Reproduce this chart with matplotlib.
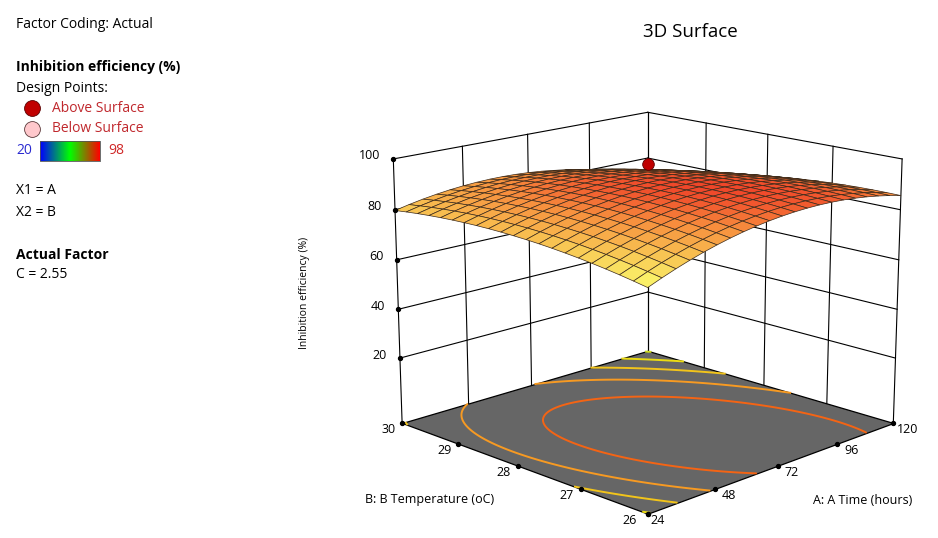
import matplotlib.pyplot as plt
import numpy as np
from matplotlib.colors import LinearSegmentedColormap, Normalize
from mpl_toolkits.mplot3d import proj3d
from mpl_toolkits.mplot3d.art3d import Poly3DCollection

plt.rcParams['font.family'] = ['Open Sans', 'DejaVu Sans']

# factor ranges / ticks
time_ticks = [24, 48, 72, 96, 120]        # A: Time (hours)
temp_ticks = [26, 27, 28, 29, 30]         # B: Temperature (oC)
ie_ticks = [20, 40, 60, 80, 100]          # Inhibition efficiency (%)
z_floor = -7

# quadratic model in coded units, C held at 2.55
b0, bA, bB, bAB, bAA, bBB = 90.7, 0.45, -2.5, -4.55, -8.5, -4.1

# design point above the surface (A, B, response)
design_pt = (72, 28, 98.0)

contour_levels = [72, 76, 80, 84, 88]
contour_colors = ['#cedc1e', '#ecdc12', '#f2c41a', '#f79a22', '#f46414']

surf_cmap = LinearSegmentedColormap.from_list(
    'ie', ['#faf46a', '#f8c452', '#f7903e', '#ee3a26'])
legend_cmap = LinearSegmentedColormap.from_list('leg', ['#0000ff', '#00ff00', '#ff0000'])


def model(A, B):
    a = (A - 72) / 48.0
    b = (B - 28) / 2.0
    return b0 + bA * a + bB * b + bAB * a * b + bAA * a * a + bBB * b * b


fig = plt.figure(figsize=(9.38, 5.38), dpi=100)
ax = fig.add_axes([0.302, -0.11, 0.76, 1.1], projection='3d', computed_zorder=False)
ax.set_axis_off()
ax.view_init(elev=15.5, azim=-135)
ax.set_proj_type('persp', focal_length=0.65)
ax.set_box_aspect((1, 1, 0.775), zoom=0.935)
ax.set_xlim(24, 120)
ax.set_ylim(26, 30)
ax.set_zlim(z_floor, 100)

# back walls grid
for t in time_ticks:
    ax.plot([t, t], [30, 30], [z_floor, 100], color='k', lw=0.8, zorder=1)
for t in temp_ticks:
    ax.plot([120, 120], [t, t], [z_floor, 100], color='k', lw=0.8, zorder=1)
for z in ie_ticks:
    ax.plot([24, 120], [30, 30], [z, z], color='k', lw=0.8, zorder=1)
    ax.plot([120, 120], [26, 30], [z, z], color='k', lw=0.8, zorder=1)

# floor
floor = Poly3DCollection([[(24, 26, z_floor), (120, 26, z_floor),
                           (120, 30, z_floor), (24, 30, z_floor)]],
                         facecolor='#666666', edgecolor='k', linewidth=0.9)
floor.set_zorder(2)
ax.add_collection3d(floor)

# response grid
A = np.linspace(24, 120, 21)
B = np.linspace(26, 30, 21)
AA, BB = np.meshgrid(A, B)
Z = model(AA, BB)

# floor contours
Af = np.linspace(24, 120, 161)
Bf = np.linspace(26, 30, 161)
AAf, BBf = np.meshgrid(Af, Bf)
cs = ax.contour(AAf, BBf, model(AAf, BBf), levels=contour_levels, colors=contour_colors,
                zdir='z', offset=z_floor, linewidths=1.4)
cs.set_zorder(3)

# surface
norm = Normalize(75, 92)
surf = ax.plot_surface(AA, BB, Z, facecolors=surf_cmap(norm(Z)), edgecolor='#3c2a1a',
                       linewidth=0.5, shade=False, rstride=1, cstride=1)
surf.set_zorder(4)

ax.scatter([design_pt[0]], [design_pt[1]], [design_pt[2]], s=70, color='#c00000',
           edgecolor='#5a0000', linewidth=0.6, depthshade=False, zorder=6)

# axis tick dots
ax.scatter([24] * 5, temp_ticks, [z_floor] * 5, s=8, color='k', depthshade=False, zorder=5)
ax.scatter(time_ticks, [26] * 5, [z_floor] * 5, s=8, color='k', depthshade=False, zorder=5)
ax.scatter([24] * 5, [30] * 5, ie_ticks, s=8, color='k', depthshade=False, zorder=5)

# overlay in pixel coordinates for all 2D text
ov = fig.add_axes([0, 0, 1, 1])
ov.set_axis_off()
ov.patch.set_alpha(0)

fig.canvas.draw()
H = fig.bbox.height


def to_px(x, y, z):
    x2, y2, _ = proj3d.proj_transform(np.atleast_1d(x), np.atleast_1d(y),
                                      np.atleast_1d(z), ax.get_proj())
    px = ax.transData.transform(np.column_stack([x2, y2]))
    return px[:, 0], H - px[:, 1]


tx, ty = to_px([24] * 5, temp_ticks, [z_floor] * 5)
for t, x, y in zip(temp_ticks, tx, ty):
    dx = -18 if t == 26 else -14
    ov.text(x + dx, y + 7, str(t), fontsize=9, ha='center', va='center')
tx, ty = to_px(time_ticks, [26] * 5, [z_floor] * 5)
for t, x, y in zip(time_ticks, tx, ty):
    dx = 10 if t == 24 else 14
    ov.text(x + dx, y + 7, str(t), fontsize=9, ha='center', va='center')
tx, ty = to_px([24] * 5, [30] * 5, ie_ticks)
for t, x, y in zip(ie_ticks, tx, ty):
    ov.text(x - 13, y - 3, str(t), fontsize=9, ha='right', va='center')

ov.text(690, 32, '3D Surface', fontsize=13.5, ha='center', va='center')
ov.text(305, 293, 'Inhibition efficiency (%)', fontsize=7.5, rotation=90, ha='center', va='center')
ov.text(430, 500, 'B: B Temperature (oC)', fontsize=9, ha='center', va='center')
ov.text(863, 500, 'A: A Time (hours)', fontsize=9, ha='center', va='center')

ov.text(16, 24, 'Factor Coding: Actual', fontsize=10, va='center')
ov.text(16, 67, 'Inhibition efficiency (%)', fontsize=10, fontweight='bold', va='center')
ov.text(16, 88, 'Design Points:', fontsize=10, va='center')
ov.scatter([32], [108], s=130, color='#c00000', edgecolor='#5a0000', linewidth=0.6)
ov.text(52, 108, 'Above Surface', fontsize=10, color='#c0282d', va='center')
ov.scatter([32], [129], s=130, color='#ffc8cc', edgecolor='#5a3a3a', linewidth=0.6)
ov.text(52, 129, 'Below Surface', fontsize=10, color='#c0282d', va='center')
ov.text(16, 151, '20', fontsize=10, color='#2a2ad0', va='center')
ov.imshow(np.linspace(0, 1, 100)[None, :], cmap=legend_cmap, aspect='auto',
          extent=(40, 100, 161, 141))
ov.plot([40, 100, 100, 40, 40], [141, 141, 161, 161, 141], color='#555555', lw=0.6)
ov.text(108, 151, '98', fontsize=10, color='#d02828', va='center')
ov.text(16, 191, 'X1 = A', fontsize=10, va='center')
ov.text(16, 212, 'X2 = B', fontsize=10, va='center')
ov.text(16, 255, 'Actual Factor', fontsize=10, fontweight='bold', va='center')
ov.text(16, 275, 'C = 2.55', fontsize=10, va='center')
ov.set_xlim(0, 938)
ov.set_ylim(538, 0)

fig.savefig('out.png', dpi=100)
